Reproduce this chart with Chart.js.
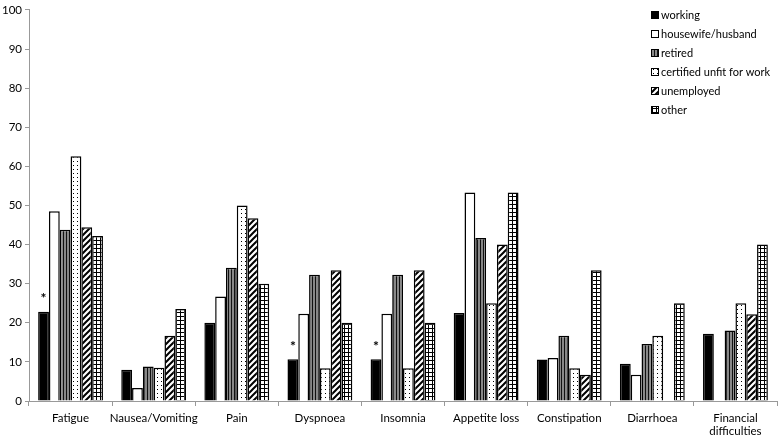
<!DOCTYPE html>
<html>
<head>
<meta charset="utf-8">
<script src="https://cdn.jsdelivr.net/npm/chart.js@4/dist/chart.umd.min.js"></script>
<style>
  html, body { margin: 0; padding: 0; background: #fff; }
  #wrap { width: 778px; height: 436px; position: relative; }
</style>
</head>
<body>
<div id="wrap"><canvas id="chart"></canvas></div>
<script>
// categories and values
const categories = ['Fatigue', 'Nausea/Vomiting', 'Pain', 'Dyspnoea', 'Insomnia',
    'Appetite loss', 'Constipation', 'Diarrhoea', ['Financial', 'difficulties']];

const working     = [22.8, 8.0, 20.0, 10.7, 10.7, 22.5, 10.6, 9.5, 17.2];
const housewife   = [48.5, 3.3, 26.7, 22.3, 22.3, 53.3, 11.0, 6.7, 0];
const retired     = [43.8, 8.8, 34.1, 32.3, 32.3, 41.7, 16.7, 14.6, 18.0];
const certified   = [62.6, 8.5, 50.0, 8.4, 8.4, 25.0, 8.4, 16.7, 25.0];
const unemployed  = [44.4, 16.7, 46.7, 33.4, 33.4, 40.0, 6.7, 0, 22.2];
const other       = [42.2, 23.5, 30.0, 20.0, 20.0, 53.3, 33.4, 25.0, 40.0];

const seriesNames = ['working', 'housewife/husband', 'retired', 'certified unfit for work', 'unemployed', 'other'];
const significance = ['*', '', '', '*', '*', '', '', '', ''];   // marks above "working" bars
const yTicks = [0, 10, 20, 30, 40, 50, 60, 70, 80, 90, 100];

const FONT = 'Lato, "Open Sans", sans-serif';

// fill patterns, drawn on small canvases
function makePattern(kind) {
    const c = document.createElement('canvas');
    const g = c.getContext('2d');
    if (kind === 'solid') return '#000';
    if (kind === 'white') return '#fff';
    if (kind === 'vstripes') {
        c.width = 3; c.height = 3;
        g.fillStyle = '#888'; g.fillRect(0, 0, 3, 3);
        g.fillStyle = '#111'; g.fillRect(0, 0, 1, 3);
    } else if (kind === 'dots') {
        c.width = 4; c.height = 4;
        g.fillStyle = '#fff'; g.fillRect(0, 0, 4, 4);
        g.fillStyle = '#000'; g.fillRect(1, 1, 1, 1);
    } else if (kind === 'diag') {
        c.width = 6; c.height = 6;
        g.fillStyle = '#fff'; g.fillRect(0, 0, 6, 6);
        g.strokeStyle = '#000'; g.lineWidth = 2;
        g.beginPath();
        g.moveTo(-1, 7); g.lineTo(7, -1);
        g.moveTo(-4, 4); g.lineTo(4, -4);
        g.moveTo(2, 10); g.lineTo(10, 2);
        g.stroke();
    } else if (kind === 'grid') {
        c.width = 4; c.height = 4;
        g.fillStyle = '#fff'; g.fillRect(0, 0, 4, 4);
        g.fillStyle = '#000'; g.fillRect(0, 0, 4, 1); g.fillRect(0, 0, 1, 4);
    }
    return g.createPattern(c, 'repeat');
}

const fills = ['solid', 'white', 'vstripes', 'dots', 'diag', 'grid'].map(makePattern);
const seriesData = [working, housewife, retired, certified, unemployed, other];

// legend drawn inside the plot, top right
const legendPlugin = {
    id: 'boxLegend',
    afterDraw(chart) {
        const ctx = chart.ctx;
        ctx.save();
        ctx.font = '11px ' + FONT;
        ctx.textBaseline = 'middle';
        seriesNames.forEach((name, i) => {
            const y = 15 + i * 19;
            ctx.fillStyle = fills[i];
            ctx.fillRect(651, y - 4, 8, 8);
            ctx.strokeStyle = '#000';
            ctx.lineWidth = 1;
            ctx.strokeRect(651.5, y - 3.5, 7, 7);
            ctx.fillStyle = '#000';
            ctx.fillText(name, 661, y);
        });
        ctx.restore();
    }
};

// asterisks above the "working" bars
const starPlugin = {
    id: 'stars',
    afterDatasetsDraw(chart) {
        const ctx = chart.ctx;
        const meta = chart.getDatasetMeta(0);
        ctx.save();
        ctx.font = 'bold 14px ' + FONT;
        ctx.fillStyle = '#000';
        ctx.textAlign = 'center';
        ctx.textBaseline = 'middle';
        significance.forEach((m, i) => {
            if (!m) return;
            const bar = meta.data[i];
            ctx.fillText(m, bar.x, bar.y - 13);
        });
        ctx.restore();
    }
};

new Chart(document.getElementById('chart'), {
    type: 'bar',
    data: {
        labels: categories,
        datasets: seriesData.map((d, i) => ({
            label: seriesNames[i],
            data: d,
            backgroundColor: fills[i],
            borderColor: '#000',
            borderWidth: 1.5,
            borderSkipped: 'bottom',
            barPercentage: 1,
            categoryPercentage: 0.78
        }))
    },
    options: {
        responsive: true,
        maintainAspectRatio: false,
        animation: false,
        layout: { padding: { top: -4, right: 1, left: 0, bottom: 0 } },
        plugins: {
            legend: { display: false },
            tooltip: { enabled: false }
        },
        scales: {
            x: {
                afterFit(axis) { axis.height = 35; },
                grid: {
                    offset: true,
                    drawOnChartArea: false,
                    drawTicks: true,
                    tickLength: 5,
                    color: '#999'
                },
                border: { color: '#999', width: 1 },
                ticks: {
                    color: '#000',
                    font: { family: FONT, size: 11.5, lineHeight: 1.13 },
                    maxRotation: 0,
                    autoSkip: false,
                    padding: 6
                }
            },
            y: {
                min: 0,
                max: 100,
                afterFit(axis) { axis.width = 29; },
                afterBuildTicks(axis) {
                    axis.ticks = yTicks.map(v => ({ value: v }));
                },
                grid: {
                    drawOnChartArea: false,
                    drawTicks: true,
                    tickLength: 4,
                    color: '#999'
                },
                border: { color: '#999', width: 1 },
                ticks: {
                    color: '#000',
                    font: { family: FONT, size: 11.5 },
                    padding: 3
                }
            }
        }
    },
    plugins: [legendPlugin, starPlugin]
});
</script>
</body>
</html>
